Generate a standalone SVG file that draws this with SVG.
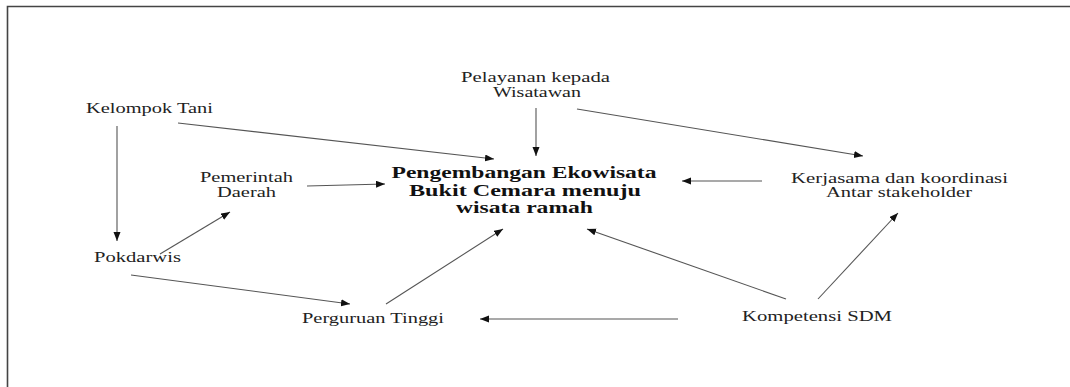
<svg xmlns="http://www.w3.org/2000/svg" width="1070" height="387" viewBox="0 0 1070 387">
<style>
.lbl{font-family:"Liberation Serif","Times New Roman",serif;font-size:15px;fill:#222}
.main{font-family:"Liberation Serif","Times New Roman",serif;font-size:16px;font-weight:bold;fill:#111}
.edge{stroke:#555;stroke-width:1.1;fill:none;marker-end:url(#ah)}
.frame{stroke:#444;stroke-width:1.6;fill:none}
</style>
<defs>
<marker id="ah" markerUnits="userSpaceOnUse" markerWidth="10" markerHeight="8" refX="9" refY="3.5" orient="auto">
<path d="M0,0 L9,3.5 L0,7 z" fill="#111"/>
</marker>
</defs>
<rect width="1070" height="387" fill="#fff"/>
<path class="frame" d="M7.5,387 V6.5 H1070"/>
<g id="center">
<text class="main" x="524" y="178" text-anchor="middle" textLength="265" lengthAdjust="spacingAndGlyphs">Pengembangan Ekowisata</text>
<text class="main" x="525" y="196" text-anchor="middle" textLength="232" lengthAdjust="spacingAndGlyphs">Bukit Cemara menuju</text>
<text class="main" x="524.5" y="213" text-anchor="middle" textLength="137" lengthAdjust="spacingAndGlyphs">wisata ramah</text>
</g>
<g id="pelayanan">
<text class="lbl" x="535.5" y="82" text-anchor="middle" textLength="149" lengthAdjust="spacingAndGlyphs">Pelayanan kepada</text>
<text class="lbl" x="537" y="97" text-anchor="middle" textLength="88" lengthAdjust="spacingAndGlyphs">Wisatawan</text>
</g>
<g id="kelompok">
<text class="lbl" x="86" y="113" textLength="127" lengthAdjust="spacingAndGlyphs">Kelompok Tani</text>
</g>
<g id="pemerintah">
<text class="lbl" x="246.5" y="182" text-anchor="middle" textLength="93" lengthAdjust="spacingAndGlyphs">Pemerintah</text>
<text class="lbl" x="246.5" y="197" text-anchor="middle" textLength="59" lengthAdjust="spacingAndGlyphs">Daerah</text>
</g>
<g id="pokdarwis">
<text class="lbl" x="94" y="262" textLength="87" lengthAdjust="spacingAndGlyphs">Pokdarwis</text>
</g>
<g id="kerjasama">
<text class="lbl" x="899.5" y="183" text-anchor="middle" textLength="217" lengthAdjust="spacingAndGlyphs">Kerjasama dan koordinasi</text>
<text class="lbl" x="899" y="197" text-anchor="middle" textLength="146" lengthAdjust="spacingAndGlyphs">Antar stakeholder</text>
</g>
<g id="perguruan">
<text class="lbl" x="302" y="323" textLength="142" lengthAdjust="spacingAndGlyphs">Perguruan Tinggi</text>
</g>
<g id="kompetensi">
<text class="lbl" x="742" y="321" textLength="150" lengthAdjust="spacingAndGlyphs">Kompetensi SDM</text>
</g>
<g id="connectors">
<line class="edge" x1="178" y1="123" x2="494" y2="159"/>
<line class="edge" x1="117" y1="126" x2="117" y2="241"/>
<line class="edge" x1="536" y1="108" x2="536" y2="156"/>
<line class="edge" x1="577" y1="109" x2="863" y2="156"/>
<line class="edge" x1="307" y1="186" x2="385" y2="184"/>
<line class="edge" x1="160" y1="254" x2="230" y2="212"/>
<line class="edge" x1="762" y1="181" x2="682" y2="181"/>
<line class="edge" x1="131" y1="275" x2="350" y2="304"/>
<line class="edge" x1="386" y1="304" x2="503" y2="229"/>
<line class="edge" x1="678" y1="319" x2="480" y2="319"/>
<line class="edge" x1="786" y1="299" x2="587" y2="229"/>
<line class="edge" x1="818" y1="299" x2="898" y2="213"/>
</g>
</svg>
